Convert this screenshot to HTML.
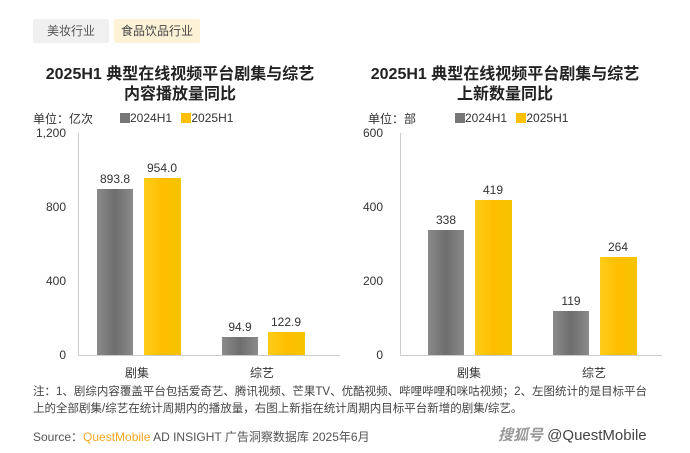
<!DOCTYPE html>
<html><head><meta charset="utf-8"><style>
body{margin:0;width:690px;height:453px;background:#fff;font-family:"Liberation Sans","Noto Sans CJK SC",sans-serif;position:relative;overflow:hidden;color:#333}
.a{position:absolute;white-space:nowrap}
.tab{position:absolute;top:19px;height:24px;line-height:24px;font-size:12px;text-align:center;border-radius:2px}
.t{font-size:16px;font-weight:bold;text-align:center;line-height:20px;color:#222}
.bar{position:absolute}
.g{background:linear-gradient(90deg,#8a8a8a,#6e6e6e,#8a8a8a)}
.y{background:linear-gradient(90deg,#ffcc1a,#ffbf00,#f5c400)}
.v{font-size:12px;text-align:center;width:50px;color:#333}
.tk{font-size:12px;text-align:right;width:40px;color:#333}
.ax{position:absolute;background:#ccc}
</style></head><body>
<div class="tab" style="left:33px;width:76px;background:#f0f0f0;color:#555">美妆行业</div>
<div class="tab" style="left:114px;width:86px;background:#fdf2d6;color:#444">食品饮品行业</div>

<div class="a t" style="left:20px;width:320px;top:65px">2025H1 典型在线视频平台剧集与综艺<br>内容播放量同比</div>
<div class="a t" style="left:345px;width:320px;top:65px">2025H1 典型在线视频平台剧集与综艺<br>上新数量同比</div>

<div class="a" style="left:33px;top:110px;font-size:12px">单位：亿次</div>
<div class="a" style="left:120px;top:111px;font-size:12px"><span style="display:inline-block;width:10px;height:10px;background:#777;vertical-align:-1px"></span>2024H1 <span style="display:inline-block;width:10px;height:10px;background:#ffc000;vertical-align:-1px;margin-left:6px"></span>2025H1</div>
<div class="a" style="left:368px;top:110px;font-size:12px">单位：部</div>
<div class="a" style="left:455px;top:111px;font-size:12px"><span style="display:inline-block;width:10px;height:10px;background:#777;vertical-align:-1px"></span>2024H1 <span style="display:inline-block;width:10px;height:10px;background:#ffc000;vertical-align:-1px;margin-left:6px"></span>2025H1</div>

<!-- left axis -->
<div class="ax" style="left:78px;top:133px;width:1px;height:222px"></div>
<div class="ax" style="left:78px;top:355px;width:262px;height:1px"></div>
<div class="a tk" style="left:26px;top:126px">1,200</div>
<div class="a tk" style="left:26px;top:200px">800</div>
<div class="a tk" style="left:26px;top:274px">400</div>
<div class="a tk" style="left:26px;top:348px">0</div>
<div class="bar g" style="left:97px;top:189px;width:36px;height:166px"></div>
<div class="bar y" style="left:144px;top:178px;width:37px;height:177px"></div>
<div class="bar g" style="left:222px;top:337px;width:36px;height:18px"></div>
<div class="bar y" style="left:268px;top:332px;width:37px;height:23px"></div>
<div class="a v" style="left:90px;top:172px">893.8</div>
<div class="a v" style="left:137px;top:161px">954.0</div>
<div class="a v" style="left:215px;top:320px">94.9</div>
<div class="a v" style="left:261px;top:315px">122.9</div>
<div class="a" style="left:125px;top:364px;font-size:12px">剧集</div>
<div class="a" style="left:250px;top:364px;font-size:12px">综艺</div>

<!-- right axis -->
<div class="ax" style="left:400px;top:133px;width:1px;height:222px"></div>
<div class="ax" style="left:400px;top:355px;width:262px;height:1px"></div>
<div class="a tk" style="left:343px;top:126px">600</div>
<div class="a tk" style="left:343px;top:200px">400</div>
<div class="a tk" style="left:343px;top:274px">200</div>
<div class="a tk" style="left:343px;top:348px">0</div>
<div class="bar g" style="left:428px;top:230px;width:36px;height:125px"></div>
<div class="bar y" style="left:475px;top:200px;width:37px;height:155px"></div>
<div class="bar g" style="left:553px;top:311px;width:36px;height:44px"></div>
<div class="bar y" style="left:600px;top:257px;width:37px;height:98px"></div>
<div class="a v" style="left:421px;top:213px">338</div>
<div class="a v" style="left:468px;top:183px">419</div>
<div class="a v" style="left:546px;top:294px">119</div>
<div class="a v" style="left:593px;top:240px">264</div>
<div class="a" style="left:457px;top:364px;font-size:12px">剧集</div>
<div class="a" style="left:582px;top:364px;font-size:12px">综艺</div>

<div class="a" style="left:33px;top:384px;font-size:11.5px;line-height:17px;color:#444">注：1、剧综内容覆盖平台包括爱奇艺、腾讯视频、芒果TV、优酷视频、哔哩哔哩和咪咕视频；2、左图统计的是目标平台<br>上的全部剧集/综艺在统计周期内的播放量，右图上新指在统计周期内目标平台新增的剧集/综艺。</div>
<div class="a" style="left:33px;top:428px;font-size:12px;color:#555">Source：<span style="color:#f5a623">QuestMobile</span> AD INSIGHT 广告洞察数据库 2025年6月</div>
<div class="a" style="left:498px;top:424px;font-size:15px;color:#444"><i style="font-weight:bold;color:#999">搜狐号</i> @QuestMobile</div>
</body></html>
